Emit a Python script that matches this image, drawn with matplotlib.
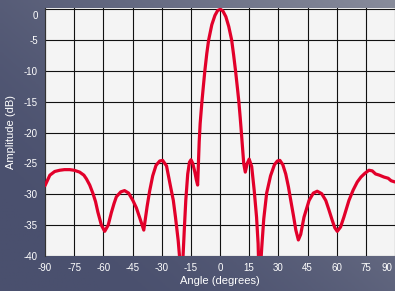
import numpy as np
import matplotlib
matplotlib.use("Agg")
import matplotlib.pyplot as plt
from matplotlib.transforms import ScaledTranslation

# Data (angle in degrees, amplitude in dB)
angle = [-90, -87.5, -85, -82.4, -80, -77.3, -75, -72.2, -70, -68.7, -67, -65.3, -64, -62.8,
         -61, -59.3, -57.5, -55.9, -54.5, -53.3, -51, -49.1, -47, -44.8, -43, -41.4, -39.2,
         -37.5, -36.2, -34.6, -32.9, -31, -29.5, -27.5, -25.4, -24, -22.9, -21.5, -20.3, -19.9,
         -19.3, -18.4, -17.6, -16.6, -15.7, -14.9, -14, -13, -12.2, -11.5, -11.1, -10.7, -10.2,
         -9.3, -8.5, -7.8, -6.8, -5.85, -4.2, -2.6, -1.2, 0.2, 1.5, 3, 4.5, 6.0, 7.0, 8.0, 9.0,
         9.7, 10.4, 11.0, 11.6, 12.2, 13.0, 14.0, 15.0, 16.3, 17.6, 18.8, 19.6, 20.2, 20.8, 21.5,
         22.5, 24, 26, 28, 29.5, 30.8, 32.3, 33.8, 35.2, 36.4, 37.8, 39, 40.3, 41.5, 43.2, 45.8,
         48, 50, 52.3, 54.4, 56, 57.7, 59, 60.3, 62, 63.7, 66.3, 68.5, 70.6, 72.5, 74.5, 76.6,
         78.3, 80, 82, 84.3, 86.5, 88, 90]
amplitude = [-28.6, -26.9, -26.3, -26.1, -26.0, -26.0, -26.1, -26.4, -26.9, -27.5, -28.5, -29.9,
             -31.2, -32.9, -35.0, -36.0, -35.0, -33.0, -31.5, -30.4, -29.6, -29.4, -29.8, -31.0,
             -32.2, -33.7, -35.8, -32.0, -29.5, -27.0, -25.3, -24.6, -24.5, -25.4, -28.8, -31.0,
             -33.7, -37.5, -42.0, -45.0, -42.0, -36.0, -31.0, -26.7, -24.8, -24.4, -25.0, -26.3,
             -27.6, -28.5, -25.0, -21.5, -18.5, -15.0, -12.3, -10.0, -7.2, -5.0, -2.5, -1.0, -0.2,
             0.0, -0.3, -1.2, -2.8, -5.0, -7.4, -10.0, -12.9, -15.0, -17.6, -20.0, -22.5, -25.0,
             -26.4, -25.0, -24.3, -25.5, -29.4, -33.7, -38.0, -45.0, -42.0, -38.5, -34.0, -29.8,
             -27.0, -25.2, -24.6, -24.5, -25.2, -26.7, -28.8, -31.0, -33.5, -35.8, -37.4, -36.5,
             -33.7, -31.0, -29.8, -29.5, -29.9, -31.0, -32.5, -34.2, -35.4, -36.0, -35.3, -33.7,
             -31.0, -29.3, -28.0, -27.2, -26.6, -26.1, -26.2, -26.7, -26.9, -27.2, -27.4, -27.8,
             -28.0]

x_ticks = [-90, -75, -60, -45, -30, -15, 0, 15, 30, 45, 60, 75, 90]
y_ticks = [0, -5, -10, -15, -20, -25, -30, -35, -40]

W, H = 395, 291
fig = plt.figure(figsize=(W / 100, H / 100), dpi=100)

# Background gradient
bg = fig.add_axes([0, 0, 1, 1])
yy, xx = np.mgrid[0:1:100j, 0:1:100j]
t = np.clip(0.55 * xx + 0.45 * (1 - yy) - 0.15, 0, 1) ** 1.5
c0 = np.array([0x4a, 0x50, 0x6e]) / 255
c1 = np.array([0x9a, 0x9d, 0xa8]) / 255
img = c0[None, None, :] * (1 - t[..., None]) + c1[None, None, :] * t[..., None]
bg.imshow(img, extent=[0, 1, 0, 1], aspect='auto', origin='upper')
bg.axis('off')

ax = fig.add_axes([45 / W, (H - 256) / H, 1 - 45 / W, (256 - 8) / H])
ax.set_facecolor('#f4f4f4')
ax.plot(angle, amplitude, color='#e2002a', lw=2.3, solid_capstyle='round',
        solid_joinstyle='round', zorder=3)
ax.set_xlim(-90, 90)
ax.set_ylim(-40, 0.2)
ax.set_xticks(x_ticks)
ax.set_yticks(y_ticks)
ax.set_xticklabels([str(v) for v in x_ticks])
ax.set_yticklabels([str(v) for v in y_ticks])
ax.grid(True, color='#111111', lw=0.8)
ax.tick_params(length=0, colors='white', labelsize=7, pad=5)
for lbl in ax.get_xticklabels() + ax.get_yticklabels():
    lbl.set_fontfamily('Liberation Sans')
for s in ax.spines.values():
    s.set_visible(False)
ax.spines['left'].set_visible(True)
ax.spines['left'].set_color('#333333')
ax.spines['left'].set_linewidth(0.8)

# shift the "0" label down and the "90" label left as in the reference
ylabs = ax.get_yticklabels()
ylabs[0].set_transform(ylabs[0].get_transform() + ScaledTranslation(0, -6 / 100, fig.dpi_scale_trans))
xlabs = ax.get_xticklabels()
xlabs[-1].set_transform(xlabs[-1].get_transform() + ScaledTranslation(-8 / 100, 0, fig.dpi_scale_trans))

ax.set_ylabel('Amplitude (dB)', color='white', fontsize=8, family='Liberation Sans', labelpad=6)
ax.set_xlabel('Angle (degrees)', color='white', fontsize=8, family='Liberation Sans', labelpad=2)

fig.savefig('out.png', dpi=100)
